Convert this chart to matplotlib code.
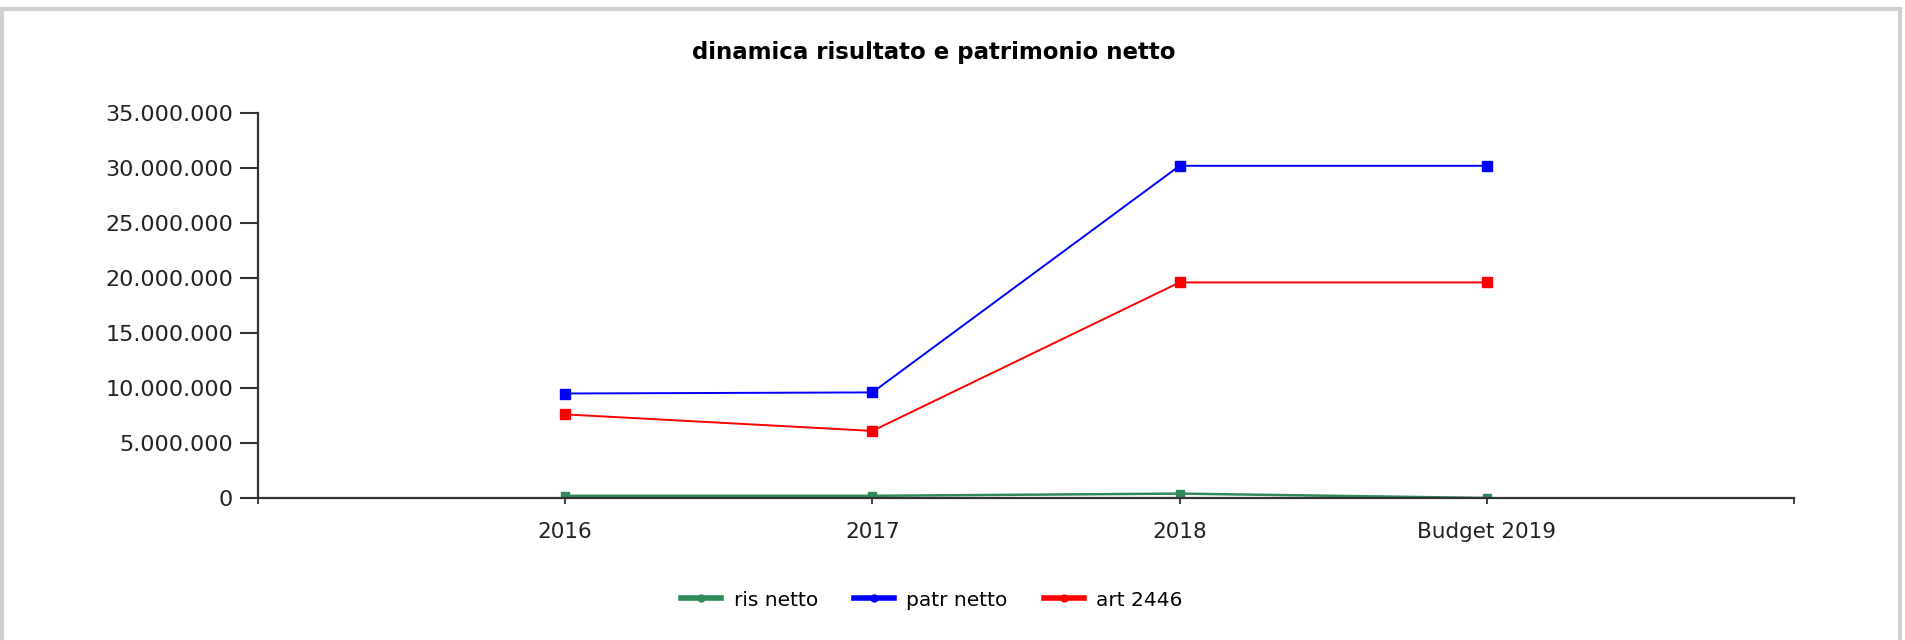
import matplotlib.pyplot as plt
from matplotlib.patches import Rectangle
from matplotlib.ticker import FuncFormatter

# data
categories = ['2016', '2017', '2018', 'Budget 2019']
ris_netto = [200000, 200000, 400000, 0]
patr_netto = [9500000, 9600000, 30200000, 30200000]
art_2446 = [7600000, 6100000, 19600000, 19600000]

fig = plt.figure(figsize=(19.06, 6.4), dpi=100)
ax = fig.add_axes([258 / 1906, 1 - 498 / 640, (1794 - 258) / 1906, (498 - 113) / 640])

# light grey frame around the whole picture
fig.patches.append(Rectangle((2 / 1906, -0.1), 1898 / 1906, 1.1 - 9 / 640,
                             transform=fig.transFigure, fill=False,
                             edgecolor='#d0d0d0', linewidth=3))

x = range(1, len(categories) + 1)
ax.plot(x, ris_netto, color='#2e8b57', lw=1.8, marker='s', ms=6, label='ris netto')
ax.plot(x, patr_netto, color='#0000ff', lw=1.4, marker='s', ms=7, label='patr netto')
ax.plot(x, art_2446, color='#ff0000', lw=1.4, marker='s', ms=7, label='art 2446')

ax.set_xlim(0, len(categories) + 1)
ax.set_ylim(0, 35000000)
ax.set_yticks(range(0, 35000001, 5000000))
ax.yaxis.set_major_formatter(FuncFormatter(lambda v, p: f'{int(v):,}'.replace(',', '.')))
ax.set_xticks(range(0, len(categories) + 2))
ax.set_xticklabels([''] + categories + [''])

for s in ['top', 'right']:
    ax.spines[s].set_visible(False)
for s in ['left', 'bottom']:
    ax.spines[s].set_color('#333333')
    ax.spines[s].set_linewidth(1.6)

ax.tick_params(axis='y', length=13, width=1.5, color='#333333', pad=5,
               labelsize=16, labelcolor='#222222')
ax.tick_params(axis='x', length=4.5, width=1.3, color='#333333', pad=13,
               labelsize=15.5, labelcolor='#222222')

fig.text(0.49, 1 - 53 / 640, 'dinamica risultato e patrimonio netto',
         ha='center', va='center', fontsize=16.5, fontweight='bold')

leg = fig.legend(loc='center', bbox_to_anchor=(932 / 1906, 1 - 600 / 640), ncol=3,
                 frameon=False, fontsize=14.5, handlelength=2.0, columnspacing=1.8,
                 handletextpad=0.6)
for h in leg.legend_handles:
    h.set_linewidth(4)
    h.set_marker('o')
    h.set_markersize(5)

fig.savefig('out.png', dpi=100)
